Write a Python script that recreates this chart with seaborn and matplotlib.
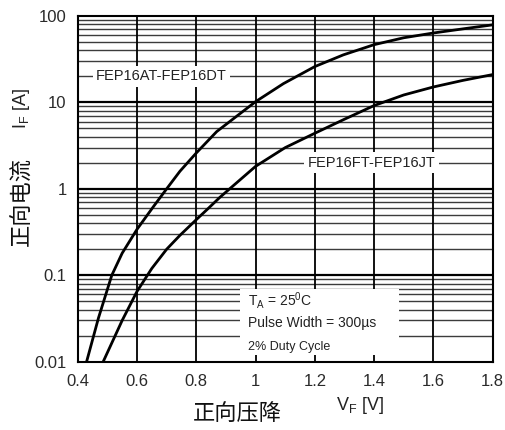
import numpy as np
import pandas as pd
import matplotlib
matplotlib.use("Agg")
import matplotlib.pyplot as plt
import seaborn as sns
from matplotlib.patches import Rectangle

# ---- data ----
v_adt = [0.43, 0.47, 0.515, 0.55, 0.6, 0.655, 0.7, 0.745, 0.8, 0.869, 1.0, 1.094, 1.2, 1.296, 1.4, 1.5, 1.6, 1.7, 1.8]
i_adt = [0.01, 0.032, 0.1, 0.18, 0.34, 0.62, 1.0, 1.6, 2.6, 4.6, 10.2, 16.5, 26, 35.5, 46.6, 56, 63.6, 71, 79]
v_fjt = [0.486, 0.55, 0.6, 0.65, 0.7, 0.745, 0.8, 0.835, 0.88, 1.0, 1.1, 1.2, 1.296, 1.4, 1.5, 1.6, 1.7, 1.8]
i_fjt = [0.01, 0.03, 0.065, 0.12, 0.2, 0.29, 0.44, 0.57, 0.8, 1.82, 3.0, 4.4, 6.3, 9.2, 12.2, 15.1, 18, 21]
label_adt = "FEP16AT-FEP16DT"
label_fjt = "FEP16FT-FEP16JT"
x_ticks = [0.4, 0.6, 0.8, 1.0, 1.2, 1.4, 1.6, 1.8]
x_ticklabels = ["0.4", "0.6", "0.8", "1", "1.2", "1.4", "1.6", "1.8"]
y_ticks = [0.01, 0.1, 1, 10, 100]
y_ticklabels = ["0.01", "0.1", "1", "10", "100"]
cond_lines = [r"T$_\mathregular{A}$ = 25$^\mathregular{0}$C", "Pulse Width = 300µs", "2% Duty Cycle"]

df = pd.concat([
    pd.DataFrame({"V": v_adt, "I": i_adt, "series": label_adt}),
    pd.DataFrame({"V": v_fjt, "I": i_fjt, "series": label_fjt}),
])

sns.set_style("white")
plt.rcParams["font.family"] = ["Liberation Sans", "Noto Sans CJK SC", "DejaVu Sans"]
plt.rcParams["mathtext.fontset"] = "custom"
plt.rcParams["mathtext.rm"] = "Liberation Sans"
plt.rcParams["mathtext.it"] = "Liberation Sans:italic"

fig = plt.figure(figsize=(5.05, 4.30), dpi=100)
ax = fig.add_axes([77.7 / 505, 1 - 361.7 / 430, (492.7 - 77.7) / 505, (361.7 - 16) / 430])

ax.set_yscale("log")
ax.set_xlim(0.4, 1.8)
ax.set_ylim(0.01, 100)

# grid
for dec in [0.01, 0.1, 1, 10]:
    for m in range(2, 10):
        ax.axhline(dec * m, color="#3c3c3c", lw=1.0, zorder=1)
for yt in [0.1, 1, 10]:
    ax.axhline(yt, color="black", lw=1.6, zorder=1.2)
for xt in x_ticks[1:-1]:
    ax.axvline(xt, color="black", lw=1.3, zorder=1.2)

sns.lineplot(data=df, x="V", y="I", hue="series", palette=["black", "black"],
             lw=2.0, legend=False, ax=ax, zorder=3, sort=False, estimator=None)

ax.set_xticks(x_ticks)
ax.set_xticklabels(x_ticklabels)
ax.set_yticks(y_ticks)
ax.set_yticklabels(y_ticklabels)
ax.yaxis.set_minor_locator(matplotlib.ticker.NullLocator())
ax.tick_params(axis="both", length=0, labelsize=12, colors="#2a2a2a")
ax.tick_params(axis="x", pad=9)
ax.tick_params(axis="y", pad=8)
ax.set_xlabel("")
ax.set_ylabel("")
for s in ax.spines.values():
    s.set_color("black")
    s.set_linewidth(1.5)
    s.set_zorder(4)

# curve labels with white backgrounds
ax.text(0.462, 20, label_adt, fontsize=10.5, color="#222222", va="center", ha="left", zorder=2.5,
        bbox=dict(facecolor="white", edgecolor="none", pad=2.5))
ax.text(1.175, 2, label_fjt, fontsize=10.5, color="#222222", va="center", ha="left", zorder=2.5,
        bbox=dict(facecolor="white", edgecolor="none", pad=2.5))

# condition box
ax.add_patch(Rectangle((0.391, 0.02), 0.383, 0.19, transform=ax.transAxes,
                       facecolor="white", edgecolor="none", zorder=2.5))
ypos = [0.178, 0.112, 0.043]
sizes = [10, 10, 9]
for t, yy, fs in zip(cond_lines, ypos, sizes):
    ax.text(0.41, yy, t, transform=ax.transAxes, fontsize=fs, color="#222222",
            va="center", ha="left", zorder=2.6)

# axis labels
fig.text(22 / 505, 1 - 201 / 430, "正向电流", rotation=90, fontsize=16,
         family=["Noto Sans CJK SC"], ha="center", va="center", color="#111111")
fig.text(22 / 505, 1 - 108 / 430, r"I$_\mathregular{F}$ [A]", rotation=90, fontsize=13,
         ha="center", va="center", color="#222222")
fig.text(237 / 505, 1 - 413 / 430, "正向压降", fontsize=16,
         family=["Noto Sans CJK SC"], ha="center", va="center", color="#111111")
fig.text(360 / 505, 1 - 405 / 430, r"V$_\mathregular{F}$ [V]", fontsize=13,
         ha="center", va="center", color="#222222")

fig.savefig("out.png", dpi=100, facecolor="white")
